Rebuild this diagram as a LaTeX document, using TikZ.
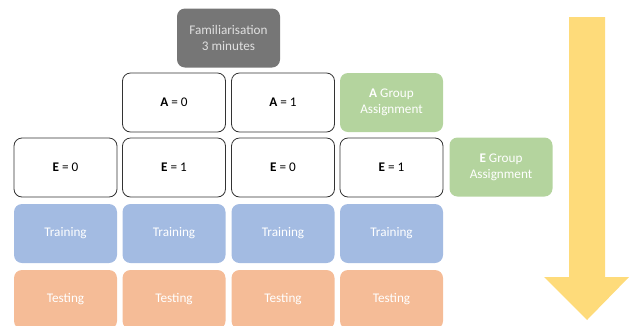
\documentclass[tikz,border=0pt]{standalone}
\usepackage{fontspec}
\setmainfont{Carlito}
\definecolor{famgray}{HTML}{767676}
\definecolor{grpgreen}{HTML}{B4D49E}
\definecolor{trblue}{HTML}{A3BBE2}
\definecolor{tsorange}{HTML}{F5BC97}
\definecolor{arrowyellow}{HTML}{FEDB7A}
\begin{document}
\begin{tikzpicture}[x=1pt,y=-1pt,
  box/.style={rounded corners=8pt,minimum width=103pt,minimum height=59pt,inner sep=0pt,align=center,font=\fontsize{13.2}{16}\selectfont},
  plain/.style={box,draw=black!80,line width=0.8pt,fill=white,text=black},
  fam/.style={box,fill=famgray,text=white!88!black},
  grp/.style={box,fill=grpgreen,text=white},
  train/.style={box,fill=trblue,text=white},
  test/.style={box,fill=tsorange,text=white}]
\useasboundingbox (0,0) rectangle (631,325);
\begin{scope}
\clip (0,0) rectangle (631,325);
\node[fam] (fam) at (228.5,38) {Familiarisation\\3 minutes};
\node[plain] (a0) at (174,102.5) {\textbf{A} = 0};
\node[plain] (a1) at (283,102.5) {\textbf{A} = 1};
\node[grp] (ag) at (391.5,102.5) {\textbf{A} Group\\Assignment};
\node[plain] (e0) at (65.5,167.5) {\textbf{E} = 0};
\node[plain] (e1) at (174,167.5) {\textbf{E} = 1};
\node[plain] (e2) at (283,167.5) {\textbf{E} = 0};
\node[plain] (e3) at (391.5,167.5) {\textbf{E} = 1};
\node[grp] (eg) at (501,167) {\textbf{E} Group\\Assignment};
\node[train] (t0) at (65.5,233.5) {Training};
\node[train] (t1) at (174,233.5) {Training};
\node[train] (t2) at (283,233.5) {Training};
\node[train] (t3) at (391.5,233.5) {Training};
\node[test] (s0) at (65.5,299.5) {Testing};
\node[test] (s1) at (174,299.5) {Testing};
\node[test] (s2) at (283,299.5) {Testing};
\node[test] (s3) at (391.5,299.5) {Testing};
\fill[arrowyellow] (569,17) -- (605,17) -- (605,277) -- (629,277) -- (587,320) -- (544,277) -- (569,277) -- cycle;
\end{scope}
\end{tikzpicture}
\end{document}
